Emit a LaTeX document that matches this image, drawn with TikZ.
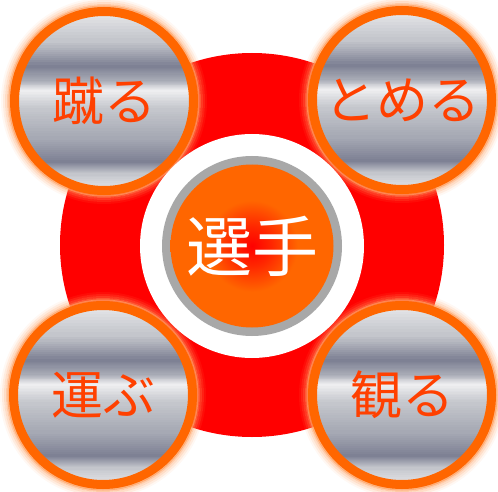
\documentclass[tikz,border=0pt]{standalone}
\usepackage{fontspec}
\newfontfamily\jp{Noto Sans CJK JP}
\definecolor{ringorange}{HTML}{FF6600}
\definecolor{txtorange}{HTML}{FF4000}
\definecolor{bigred}{HTML}{FF0000}
\definecolor{graring}{HTML}{A8A8A8}
\definecolor{glowc}{HTML}{FFA060}
\definecolor{mlight}{HTML}{EEEEF0}
\definecolor{mmid}{HTML}{C4C6CC}
\definecolor{mdark}{HTML}{7E8194}
\definecolor{mgray}{HTML}{A6A9B4}
\pgfdeclareradialshading{core}{\pgfpoint{0bp}{0bp}}{%
 color(0bp)=(red!100!orange);
 color(6bp)=(red!85!yellow);
 color(14bp)=(ringorange);
 color(25bp)=(ringorange);
 color(50bp)=(ringorange)}
% one band of the metal fill, from y=#1 down to y=#2, colour #3 to #4
\newcommand\metalband[4]{%
  \foreach \i in {0,...,11}{%
    \pgfmathsetmacro\ya{#1-(#1-(#2))*\i/12+0.3}%
    \pgfmathsetmacro\yb{#1-(#1-(#2))*(\i+1)/12-0.3}%
    \pgfmathtruncatemacro\pp{100-100*\i/11}%
    \fill[#3!\pp!#4] (-95,\ya) rectangle (95,\yb);
  }}
\newcommand\metaldisc[2]{%
  \begin{scope}[shift={(#1,#2)}]
    \clip (0,0) circle (90);
    \metalband{95}{59.5}{mlight}{mmid}
    \metalband{59.5}{34}{mmid}{mdark}
    \metalband{34}{20.4}{mdark}{mgray}
    \metalband{20.4}{10.2}{mgray}{mlight}
    \metalband{10.2}{-8.5}{mlight}{mmid}
    \metalband{-8.5}{-37.4}{mmid}{mgray}
    \metalband{-37.4}{-61.2}{mgray}{mdark}
    \metalband{-61.2}{-73}{mdark}{mmid}
    \metalband{-73}{-95}{mmid}{mlight}
  \end{scope}}
\tikzset{
  disc/.style={circle, inner sep=0pt, outer sep=0pt},
  corner/.style={disc, minimum size=179pt, draw=ringorange, line width=9pt,
     text=txtorange, font=\jp\fontsize{52}{52}\selectfont},
  glowring/.style={draw=glowc, line width=2pt}
}
\begin{document}
\begin{tikzpicture}[x=1pt,y=1pt]
\useasboundingbox (0,0) rectangle (498,491);
% big red disc
\node[disc, fill=bigred, minimum size=384pt] (bigdisc) at (252,246) {};
% glows and metal fills of corner circles
\foreach \cx/\cy in {104/390, 402/391, 103/96, 402/96}{
  \foreach \r/\op in {94.5/0.8,96/0.55,98/0.35,100/0.2,102/0.08}{
    \draw[glowring, opacity=\op] (\cx,\cy) circle (\r);
  }
  \metaldisc{\cx}{\cy}
}
% corner circles
\node[corner] (kick) at (104,390) {\raisebox{-3pt}{蹴る}};
\node[corner] (stop) at (402,391) {\raisebox{-3pt}{とめる}};
\node[corner] (carry) at (103,96) {\raisebox{-3pt}{運ぶ}};
\node[corner] (watch) at (402,96) {\raisebox{-3pt}{観る}};
% centre
\node[disc, fill=white, minimum size=224pt] (whitedisc) at (252,245) {};
\node[disc, fill=graring, minimum size=180pt] (grayring) at (252,245) {};
\node[disc, shading=core, minimum size=163pt, text=white,
      font=\jp\fontsize{66}{66}\selectfont] (player) at (252,245) {\raisebox{-5pt}{選手}};
\end{tikzpicture}
\end{document}
